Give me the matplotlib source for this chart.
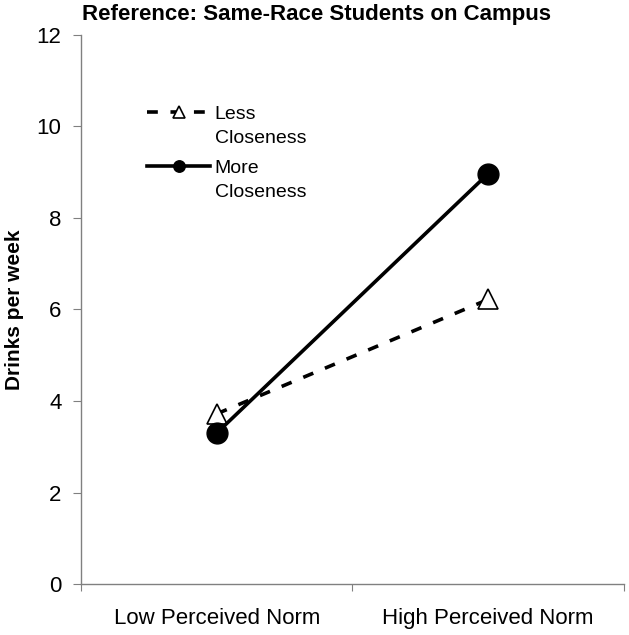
import matplotlib
matplotlib.use("Agg")
import matplotlib.pyplot as plt

# ---- datos ----
categorias = ["Low Perceived Norm", "High Perceived Norm"]
menos_cercania = [3.72, 6.22]
mas_cercania = [3.30, 8.97]
y_ticks = [0, 2, 4, 6, 8, 10, 12]

plt.rcParams['font.family'] = ['Liberation Sans', 'DejaVu Sans']

fig = plt.figure(figsize=(6.29, 6.35), dpi=100)
ax = fig.add_axes([0.1288, 0.0803, 0.8632, 0.8646])

x = [0.5, 1.5]
ax.plot(x, menos_cercania, color="black", lw=2.6, ls=(0, (3, 3.5)),
        marker="^", ms=15, mfc="white", mec="black", mew=1.2,
        label="Less", zorder=2)
ax.plot(x, mas_cercania, color="black", lw=2.6, ls="-",
        marker="o", ms=15, mfc="black", mec="black",
        label="More", zorder=3)

ax.set_xlim(0, 2)
ax.set_ylim(0, 12)
ax.set_yticks(y_ticks)
ax.set_yticklabels([str(v) for v in y_ticks], fontsize=16)
ax.set_xticks([0, 1, 2])
ax.set_xticklabels([])
ax.set_xticks(x, minor=True)
ax.set_xticklabels(categorias, minor=True, fontsize=16)
ax.tick_params(axis="x", which="minor", length=0, pad=17)
ax.tick_params(axis="x", which="major", length=5, direction="out", color="#808080")
ax.tick_params(axis="y", length=6, direction="out", color="#808080", pad=8)

for s in ["top", "right"]:
    ax.spines[s].set_visible(False)
for s in ["left", "bottom"]:
    ax.spines[s].set_color("#808080")
    ax.spines[s].set_linewidth(1.0)

ax.set_ylabel("Drinks per week", fontsize=15, fontweight="bold", labelpad=9)
fig.text(0.131, 0.977, "Reference: Same-Race Students on Campus",
         fontsize=16, fontweight="bold", ha="left", va="center")

leg = ax.legend(loc="upper left", bbox_to_anchor=(0.108, 0.886), frameon=False,
                fontsize=14, handlelength=3.2, handletextpad=0.26, labelspacing=1.85,
                markerscale=0.55, borderaxespad=0)

# segunda linea de cada etiqueta ("Closeness") debajo del texto de la leyenda
fig.canvas.draw()
inv = fig.transFigure.inverted()
for t in leg.get_texts():
    bb = t.get_window_extent()
    x0, y0 = inv.transform((bb.x0, bb.y0 - 24))
    fig.text(x0, y0, "Closeness", fontsize=14, ha="left", va="bottom")

fig.savefig("out.png", dpi=100)
